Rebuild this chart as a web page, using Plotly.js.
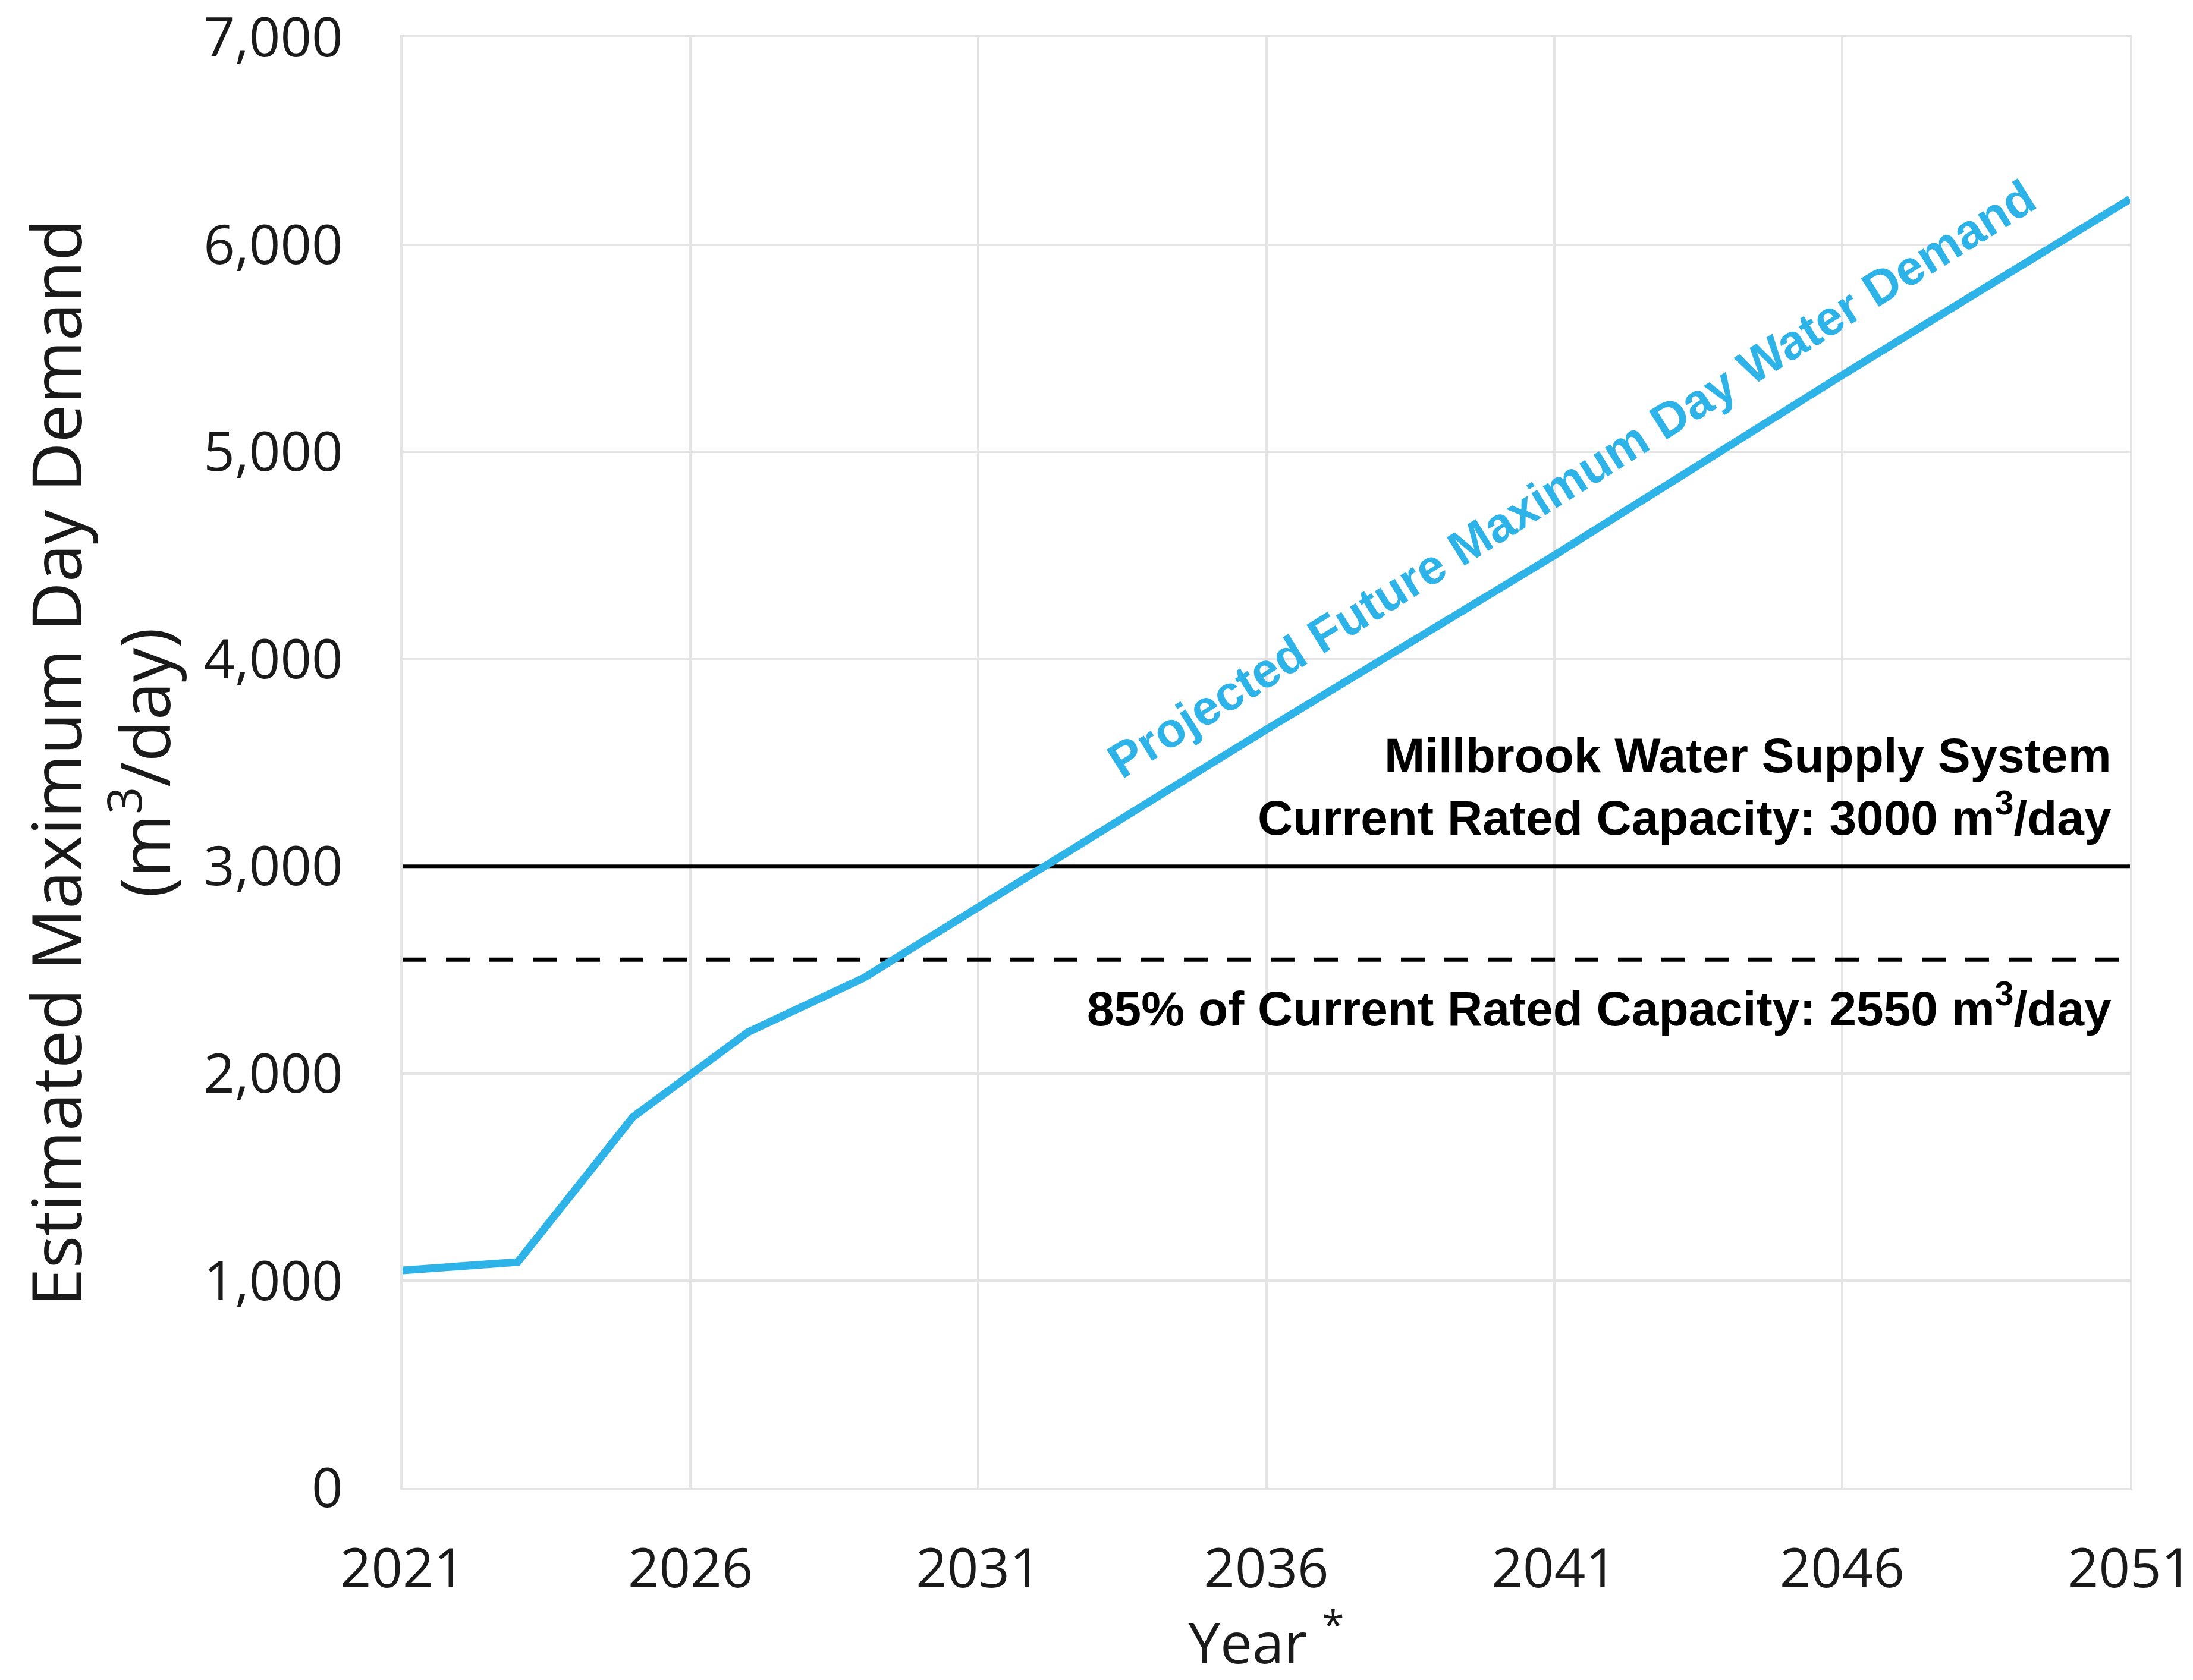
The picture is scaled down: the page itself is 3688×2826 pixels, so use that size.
<!DOCTYPE html>
<html>
<head>
<meta charset="utf-8">
<script src="https://cdn.plot.ly/plotly-3.0.1.min.js"></script>
<style>html,body{margin:0;padding:0;background:#fff;}#chart{width:3688px;height:2826px;}</style>
</head>
<body>
<div id="chart"></div>
<script>
// Data
const years = [2021, 2023, 2025, 2026, 2027, 2029, 2036, 2041, 2046, 2051];
const demand = [1050, 1090, 1790, 2000, 2200, 2460, 3660, 4500, 5370, 6220];
const capacityYears = [2021, 2051];
const ratedCapacity = [3000, 3000];
const capacity85 = [2550, 2550];
const yTickVals = [0, 1000, 2000, 3000, 4000, 5000, 6000, 7000];
const yTickText = ['0', '1,000', '2,000', '3,000', '4,000', '5,000', '6,000', '7,000'];
const xTickVals = [2021, 2026, 2031, 2036, 2041, 2046, 2051];

const blue = '#2EB3E9';
const gridColor = '#e4e4e4';
const tickFont = {family: 'Open Sans, sans-serif', size: 92, color: '#1a1a1a'};
const boldFont = {family: 'Liberation Sans, Arial, sans-serif', size: 82, color: '#000000', weight: 'bold'};

const traces = [
  {x: capacityYears, y: capacity85, mode: 'lines', line: {color: '#000', width: 7, dash: '40px,33px'}, hoverinfo: 'skip', showlegend: false},
  {x: capacityYears, y: ratedCapacity, mode: 'lines', line: {color: '#000', width: 6}, hoverinfo: 'skip', showlegend: false},
  {x: years, y: demand, mode: 'lines', line: {color: blue, width: 13}, showlegend: false}
];

const layout = {
  width: 3688, height: 2826,
  margin: {l: 677, r: 106, t: 63, b: 323, pad: 0},
  paper_bgcolor: '#fff', plot_bgcolor: '#fff',
  showlegend: false,
  xaxis: {
    range: [2021, 2051], tickmode: 'array', tickvals: xTickVals, ticktext: xTickVals.map(String),
    showgrid: true, gridcolor: gridColor, gridwidth: 4, zeroline: false,
    showline: true, linecolor: gridColor, linewidth: 4, mirror: true,
    ticks: '', tickfont: tickFont, ticklabelstandoff: 53, ticklabeloverflow: 'allow',
    title: {text: 'Year <sup>*</sup>', font: {family: 'Open Sans, sans-serif', size: 96, color: '#1a1a1a'}, standoff: 145},
    automargin: false
  },
  yaxis: {
    range: [0, 7000], tickmode: 'array', tickvals: yTickVals, ticktext: yTickText,
    showgrid: true, gridcolor: gridColor, gridwidth: 4, zeroline: false,
    showline: true, linecolor: gridColor, linewidth: 4, mirror: true,
    ticks: '', tickfont: tickFont, ticklabelstandoff: 78, ticklabeloverflow: 'allow',
    title: {text: 'Estimated Maximum Day Demand<br>(m<sup>3</sup>/day)', font: {family: 'Open Sans, sans-serif', size: 115, color: '#1a1a1a'}, standoff: 18},
    automargin: false
  },
  annotations: [
    {x: 2041.3, y: 4870, xref: 'x', yref: 'y', text: 'Projected Future Maximum Day Water Demand', textangle: -32,
     showarrow: false, xanchor: 'center', yanchor: 'middle', font: {family: 'Liberation Sans, Arial, sans-serif', size: 82, color: blue, weight: 'bold'}},
    {x: 2050.7, y: 3537, xref: 'x', yref: 'y', text: 'Millbrook Water Supply System', showarrow: false, xanchor: 'right', yanchor: 'middle', font: boldFont},
    {x: 2050.7, y: 3253, xref: 'x', yref: 'y', text: 'Current Rated Capacity: 3000 m<sup>3</sup>/day', showarrow: false, xanchor: 'right', yanchor: 'middle', font: boldFont},
    {x: 2050.7, y: 2330, xref: 'x', yref: 'y', text: '85% of Current Rated Capacity: 2550 m<sup>3</sup>/day', showarrow: false, xanchor: 'right', yanchor: 'middle', font: boldFont}
  ]
};

Plotly.newPlot('chart', traces, layout, {displayModeBar: false, staticPlot: true});
</script>
</body>
</html>
